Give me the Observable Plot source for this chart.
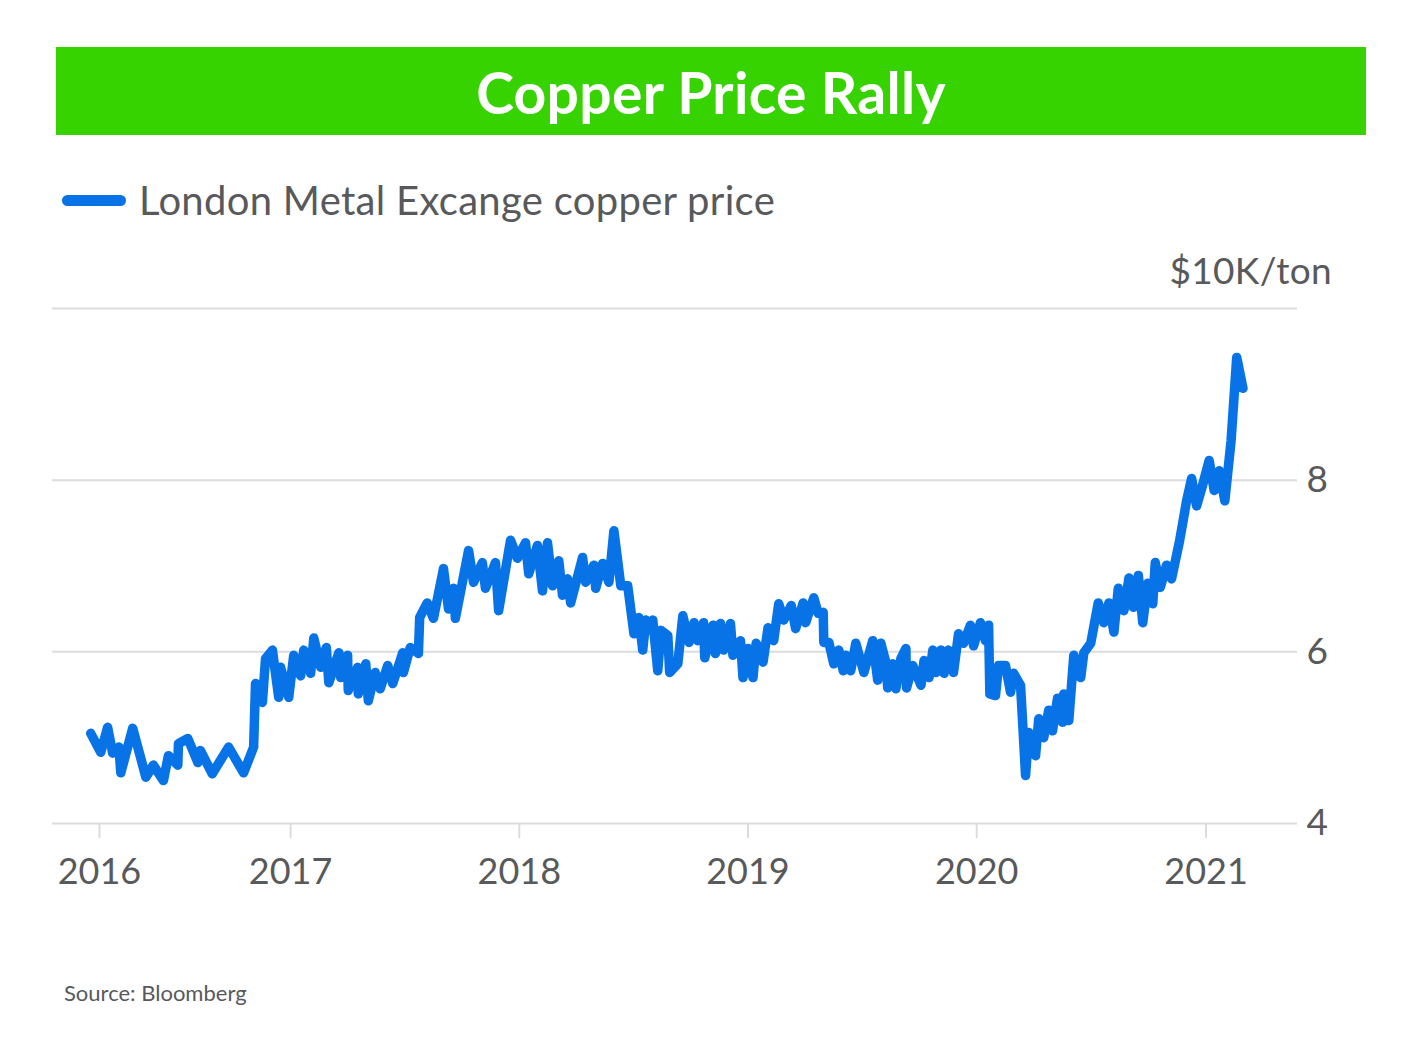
<!DOCTYPE html>
<html>
<head>
<meta charset="utf-8">
<script src="https://cdn.jsdelivr.net/npm/d3@7"></script>
<script src="https://cdn.jsdelivr.net/npm/@observablehq/plot@0.6"></script>
<style>
  html, body { margin: 0; padding: 0; background: #fff; }
  #page { position: relative; width: 1417px; height: 1043px; font-family: Lato, "Open Sans", sans-serif; color: #58595b; overflow: hidden; }
  #banner { position: absolute; left: 56px; top: 47px; width: 1310px; height: 88px; background: #36d300; color: #fff;
            font-weight: 700; font-size: 57px; line-height: 90px; text-align: center; letter-spacing: 0.3px; }
  #legend { position: absolute; left: 62px; top: 176px; height: 48px; display: flex; align-items: center; font-size: 40px; letter-spacing: 0.3px; }
  #legend .swatch { width: 64px; height: 11px; border-radius: 6px; background: #0873e6; margin-right: 13px; }
  #unit { position: absolute; right: 85px; top: 247px; font-size: 37px; letter-spacing: 0.3px; }
  #chart { position: absolute; left: 0; top: 240px; }
  #source { position: absolute; left: 64px; top: 979px; font-size: 22px; }
</style>
</head>
<body>
<div id="page">
  <div id="banner">Copper Price Rally</div>
  <div id="legend"><div class="swatch"></div><span>London Metal Excange copper price</span></div>
  <div id="unit">$10K/ton</div>
  <div id="chart"></div>
  <div id="source">Source: Bloomberg</div>
</div>
<script>
// LME copper price, axis unit as labelled
const dates = [
  "2016-02-17","2016-03-04","2016-03-15","2016-03-23","2016-04-02","2016-04-05","2016-04-24","2016-05-15","2016-05-27","2016-06-12",
  "2016-06-20","2016-07-05","2016-07-06","2016-07-21","2016-08-06","2016-08-10","2016-08-29","2016-09-24","2016-10-18","2016-11-03",
  "2016-11-06","2016-11-17","2016-11-22","2016-12-03","2016-12-13","2016-12-16","2016-12-29",
  "2017-01-06","2017-01-17","2017-01-22","2017-02-02","2017-02-07","2017-02-18","2017-02-27","2017-03-03","2017-03-19","2017-03-22",
  "2017-04-02","2017-04-03","2017-04-18","2017-04-19","2017-05-01","2017-05-05","2017-05-16","2017-05-24","2017-06-05","2017-06-13",
  "2017-06-29","2017-06-30","2017-07-11","2017-07-24","2017-07-26","2017-08-07","2017-08-17","2017-09-02","2017-09-10","2017-09-18",
  "2017-09-21","2017-10-12","2017-10-20","2017-11-03","2017-11-08","2017-11-24","2017-11-29","2017-12-18","2017-12-29",
  "2018-01-11","2018-01-16","2018-01-30","2018-02-07","2018-02-15","2018-02-23","2018-03-05","2018-03-11","2018-03-19","2018-03-24",
  "2018-04-12","2018-04-17","2018-04-30","2018-05-03","2018-05-14","2018-05-24","2018-06-01","2018-06-12","2018-06-23","2018-07-03",
  "2018-07-11","2018-07-17","2018-07-22","2018-07-30","2018-08-02","2018-08-10","2018-08-15","2018-08-26","2018-08-29","2018-09-11",
  "2018-09-19","2018-09-29","2018-10-07","2018-10-13","2018-10-22","2018-10-24","2018-11-06","2018-11-10","2018-11-18","2018-11-23",
  "2018-12-04","2018-12-08","2018-12-20","2018-12-24",
  "2019-01-01","2019-01-09","2019-01-14","2019-01-25","2019-02-02","2019-02-11","2019-02-19","2019-02-27","2019-03-11","2019-03-18",
  "2019-03-30","2019-04-03","2019-04-16","2019-04-23","2019-05-01","2019-05-02","2019-05-10","2019-05-18","2019-05-26","2019-06-02",
  "2019-06-06","2019-06-14","2019-06-22","2019-07-05","2019-07-19","2019-07-27","2019-08-01","2019-08-09","2019-08-12","2019-08-20",
  "2019-08-25","2019-09-02","2019-09-10","2019-09-11","2019-09-21","2019-10-04","2019-10-09","2019-10-17","2019-10-23","2019-10-28",
  "2019-11-05","2019-11-10","2019-11-17","2019-11-25","2019-12-03","2019-12-11","2019-12-22","2019-12-27",
  "2020-01-07","2020-01-15","2020-01-20","2020-01-22","2020-01-31","2020-02-05","2020-02-16","2020-02-24","2020-02-29","2020-03-11",
  "2020-03-19","2020-03-24","2020-04-04","2020-04-09","2020-04-17","2020-04-25","2020-05-01","2020-05-09","2020-05-17","2020-05-19",
  "2020-05-27","2020-06-04","2020-06-15","2020-06-20","2020-07-01","2020-07-13","2020-07-22","2020-07-30","2020-08-07","2020-08-14",
  "2020-08-23","2020-08-31","2020-09-07","2020-09-15","2020-09-22","2020-09-30","2020-10-08","2020-10-12","2020-10-20","2020-10-30",
  "2020-11-07","2020-11-20","2020-12-01","2020-12-09","2020-12-17","2020-12-25",
  "2021-01-06","2021-01-14","2021-01-22","2021-01-31","2021-02-10","2021-02-19","2021-03-01"
];
const prices = [
  5.05,4.83,5.12,4.82,4.89,4.59,5.11,4.54,4.68,4.50,
  4.79,4.68,4.93,4.99,4.71,4.85,4.58,4.89,4.59,4.89,
  5.63,5.41,5.92,6.02,5.47,5.82,5.47,
  5.96,5.72,6.02,5.75,6.16,5.82,6.05,5.64,5.99,5.70,
  5.96,5.55,5.82,5.51,5.86,5.43,5.76,5.57,5.84,5.63,
  5.99,5.76,6.05,5.98,6.40,6.57,6.39,6.97,6.50,6.74,
  6.39,7.18,6.81,7.04,6.74,7.04,6.48,7.30,7.09,
  7.27,6.91,7.24,6.71,7.27,6.77,7.06,6.66,6.85,6.57,
  7.10,6.81,7.01,6.74,7.03,6.81,7.41,6.77,6.77,6.21,
  6.40,6.02,6.37,6.25,6.37,5.78,6.25,6.19,5.76,5.86,
  6.42,6.11,6.34,6.13,6.34,5.93,6.31,5.98,6.33,6.02,
  6.33,5.96,6.13,5.70,
  6.04,5.70,6.10,5.88,6.28,6.13,6.56,6.37,6.54,6.27,
  6.57,6.34,6.63,6.45,6.46,6.11,6.11,5.86,6.02,5.78,
  5.96,5.78,6.10,5.76,6.13,5.67,6.10,5.88,5.58,5.86,
  5.57,5.92,6.04,5.58,5.84,5.61,5.90,5.70,6.02,5.76,
  6.02,5.75,6.02,5.76,6.21,6.10,6.31,6.07,
  6.34,6.13,6.31,5.51,5.49,5.84,5.84,5.53,5.75,5.61,
  4.56,5.06,4.79,5.22,5.00,5.32,5.08,5.46,5.18,5.51,
  5.20,5.96,5.70,5.99,6.10,6.57,6.34,6.57,6.23,6.74,
  6.48,6.86,6.52,6.89,6.34,6.80,6.56,7.04,6.75,7.01,
  6.85,7.30,7.76,8.02,7.70,7.90,
  8.23,7.88,8.11,7.76,8.46,9.43,9.07
];
const yTicks = [4, 6, 8];
const yTickLabels = ["4", "6", "8"];
const gridValues = [4, 6, 8, 10];
const xTickDates = ["2016-03-02","2017-01-01","2018-01-01","2019-01-01","2020-01-01","2021-01-01"];
const xTickLabels = ["2016","2017","2018","2019","2020","2021"];
const xDomain = ["2015-12-18","2021-05-27"];

const data = dates.map((d, i) => ({date: new Date(d), price: prices[i]}));
const tickDates = xTickDates.map(d => new Date(d));

const chart = Plot.plot({
  width: 1417,
  height: 700,
  marginLeft: 52,
  marginRight: 120,
  marginTop: 68,
  marginBottom: 117,
  style: {fontFamily: "Lato, 'Open Sans', sans-serif", fontSize: "36px", color: "#58595b", background: "transparent", overflow: "visible"},
  x: {type: "utc", domain: xDomain.map(d => new Date(d))},
  y: {domain: [4, 10]},
  marks: [
    Plot.ruleY(gridValues, {stroke: "#dcdcdc", strokeWidth: 2}),
    Plot.axisX({
      ticks: tickDates, tickSize: 15, tickPadding: 20, stroke: "#dcdcdc", strokeWidth: 2, fill: "#58595b",
      fontSize: 36, label: null,
      tickFormat: d => xTickLabels[tickDates.findIndex(t => +t === +d)]
    }),
    Plot.axisY({anchor: "right", ticks: yTicks, tickSize: 0, tickPadding: 9, label: null, fill: "#58595b", fontSize: 37,
      tickFormat: d => yTickLabels[yTicks.indexOf(d)]}),
    Plot.line(data, {x: "date", y: "price", stroke: "#0873e6", strokeWidth: 9.5, strokeLinejoin: "round", strokeLinecap: "round"})
  ]
});
document.getElementById("chart").appendChild(chart);
</script>
</body>
</html>
